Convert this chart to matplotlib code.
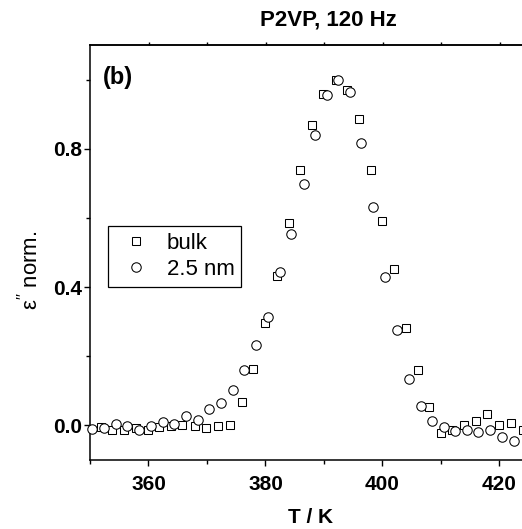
import matplotlib
matplotlib.use('Agg')
import matplotlib.pyplot as plt
from matplotlib.ticker import MultipleLocator

# ---- data ----
bulk_T = [351.8, 353.8, 355.8, 357.9, 359.9, 361.8, 363.8, 365.8, 367.9, 369.9,
          371.9, 373.9, 375.9, 377.9, 380.0, 382.0, 384.0, 385.9, 387.9, 389.9,
          392.0, 394.0, 396.0, 398.0, 400.0, 402.0, 404.0, 406.0, 408.0, 410.0,
          411.9, 413.9, 415.9, 417.9, 420.0, 422.0, 424.0]
bulk_v = [-0.005, -0.012, -0.012, -0.007, -0.012, -0.005, -0.003, 0.000, -0.002, -0.007,
          -0.002, 0.000, 0.068, 0.164, 0.297, 0.433, 0.586, 0.739, 0.869, 0.958,
          1.000, 0.971, 0.887, 0.739, 0.591, 0.453, 0.283, 0.159, 0.052, -0.022,
          -0.014, 0.002, 0.014, 0.034, 0.000, 0.007, -0.012]

film_T = [350.4, 352.4, 354.4, 356.4, 358.4, 360.4, 362.4, 364.4, 366.4, 368.4,
          370.4, 372.4, 374.4, 376.4, 378.4, 380.5, 382.5, 384.4, 386.5, 388.5,
          390.5, 392.4, 394.4, 396.4, 398.4, 400.5, 402.5, 404.5, 406.5, 408.5,
          410.5, 412.4, 414.4, 416.4, 418.4, 420.4, 422.4]
film_v = [-0.010, -0.007, 0.005, -0.002, -0.014, -0.002, 0.010, 0.003, 0.027, 0.017,
          0.048, 0.066, 0.101, 0.159, 0.232, 0.314, 0.444, 0.554, 0.698, 0.841,
          0.954, 1.000, 0.963, 0.816, 0.633, 0.430, 0.275, 0.135, 0.055, 0.012,
          -0.005, -0.016, -0.013, -0.020, -0.013, -0.034, -0.046]

series_labels = ['bulk', '2.5 nm']
x_ticks = [360, 380, 400, 420]
y_ticks = [0.0, 0.4, 0.8]
title = 'P2VP, 120 Hz'
panel = '(b)'
x_label = 'T / K'

plt.rcParams['font.family'] = ['Liberation Sans', 'DejaVu Sans']

W, H = 522, 529
fig = plt.figure(figsize=(W / 100, H / 100), dpi=100)
ax = fig.add_axes([90 / W, 69 / H, (528.75 - 90) / W, 415 / H])

ax.plot(bulk_T, bulk_v, ls='none', marker='s', ms=5.8, mfc='white', mec='black',
        mew=0.75, clip_on=False, label=series_labels[0], zorder=3)
ax.plot(film_T, film_v, ls='none', marker='o', ms=6.8, mfc='white', mec='black',
        mew=0.75, clip_on=False, label=series_labels[1], zorder=4)

ax.set_xlim(350, 425)
ax.set_ylim(-0.1, 1.1)

ax.set_xticks(x_ticks)
ax.set_xticklabels([str(t) for t in x_ticks])
ax.xaxis.set_minor_locator(MultipleLocator(10))
ax.set_yticks(y_ticks)
ax.set_yticklabels(['%.1f' % t for t in y_ticks])
ax.yaxis.set_minor_locator(MultipleLocator(0.2))

for sp in ['right']:
    ax.spines[sp].set_visible(False)
for sp in ['left', 'bottom', 'top']:
    ax.spines[sp].set_linewidth(1.1)

ax.tick_params(axis='both', which='major', direction='out', length=4.5, width=1.0,
               labelsize=15, top=False, right=False)
ax.tick_params(axis='both', which='minor', direction='out', length=2.8, width=1.0,
               top=False, right=False)
ax.tick_params(axis='x', which='major', pad=6)
ax.tick_params(axis='y', which='major', pad=1.5)
for lab in ax.get_xticklabels() + ax.get_yticklabels():
    lab.set_fontweight('bold')

sec = ax.secondary_xaxis('top')
sec.set_xticks(list(range(360, 425, 10)))
sec.tick_params(direction='out', length=2.5, width=1.0, labeltop=False)
sec.spines['top'].set_linewidth(1.1)

leg = ax.legend(loc='upper left', bbox_to_anchor=(108 / W, 1 - 226 / H),
                bbox_transform=fig.transFigure, borderaxespad=0, fontsize=16,
                frameon=True, fancybox=False, edgecolor='black', framealpha=1,
                handlelength=1.9, handletextpad=0.45, borderpad=0.3,
                labelspacing=0.25, numpoints=1)
leg.get_frame().set_linewidth(0.9)

fig.text(328 / W, 1 - 20 / H, title, ha='center', va='center', fontsize=16,
         fontweight='bold')
fig.text(103 / W, 1 - 83.5 / H, panel, ha='left', va='baseline', fontsize=17,
         fontweight='bold')
fig.text(311 / W, 1 - 523 / H, x_label, ha='center', va='baseline', fontsize=15,
         fontweight='bold')
fig.text(30 / W, 1 - 270 / H, r"$\mathregular{\varepsilon^{\prime\prime}}$ norm.",
         rotation=90, ha='center', va='center', fontsize=16)

fig.savefig('out.png', dpi=100)
